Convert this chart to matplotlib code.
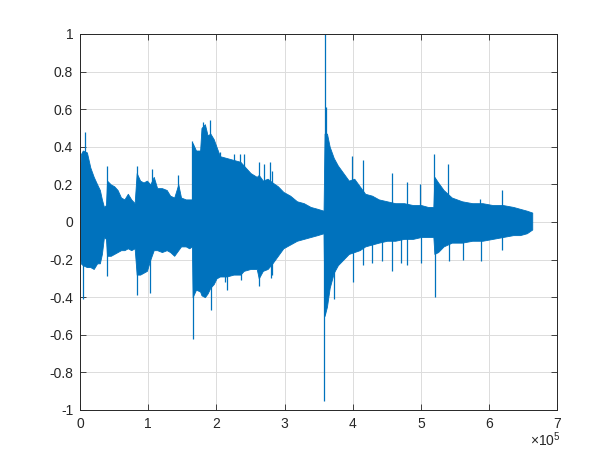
import numpy as np
import matplotlib.pyplot as plt
from matplotlib.ticker import FuncFormatter

plt.rcParams["font.family"] = ["Liberation Sans", "DejaVu Sans"]
plt.rcParams["mathtext.default"] = "regular"

# waveform envelope (sample index in thousands)
env_k = [0.5, 1, 4, 10, 15, 20, 25, 29, 32, 35, 38, 39.5, 45, 50, 55, 60, 65, 70, 75, 80,
         83, 88, 93, 98, 103, 108, 113, 120, 127, 132, 138, 144, 148, 155, 160, 164,
         165, 170, 176, 178, 183, 187, 191, 196, 200, 205, 215, 225, 235, 240, 250, 259,
         262, 268, 275, 282, 290, 298, 308, 318, 328, 338, 348, 357,
         358.5, 362, 366, 372, 378, 386, 394, 402, 410, 418, 428, 438, 450, 462, 475, 488,
         500, 510, 518, 519.5, 525, 533, 545, 560, 575, 590, 605, 620, 635, 645, 655, 663]
env_hi = [0.30, 0.36, 0.38, 0.37, 0.29, 0.24, 0.20, 0.17, 0.12, 0.08, 0.09, 0.22, 0.20, 0.19,
          0.17, 0.13, 0.12, 0.15, 0.12, 0.10,
          0.26, 0.22, 0.21, 0.22, 0.20, 0.24, 0.18, 0.18, 0.17, 0.14, 0.13, 0.20, 0.13, 0.12,
          0.12, 0.12,
          0.42, 0.38, 0.38, 0.50, 0.52, 0.46, 0.47, 0.44, 0.40, 0.35, 0.34, 0.33, 0.32, 0.30,
          0.26, 0.24,
          0.25, 0.22, 0.23, 0.21, 0.19, 0.16, 0.14, 0.11, 0.10, 0.08, 0.07, 0.06,
          0.47, 0.47, 0.40, 0.34, 0.30, 0.26, 0.22, 0.23, 0.19, 0.15, 0.14, 0.12, 0.11, 0.10,
          0.10, 0.09,
          0.09, 0.08, 0.08, 0.24, 0.21, 0.17, 0.13, 0.11, 0.10, 0.10, 0.09, 0.09, 0.08, 0.07,
          0.06, 0.05]
env_lo = [-0.20, -0.22, -0.23, -0.24, -0.24, -0.25, -0.22, -0.22, -0.17, -0.08, -0.09, -0.18,
          -0.18, -0.17, -0.16, -0.15, -0.15, -0.14, -0.15, -0.14,
          -0.28, -0.28, -0.27, -0.26, -0.20, -0.15, -0.15, -0.16, -0.15, -0.16, -0.18, -0.15,
          -0.13, -0.13, -0.14, -0.13,
          -0.40, -0.36, -0.37, -0.39, -0.40, -0.38, -0.35, -0.33, -0.30, -0.29, -0.29, -0.28,
          -0.28, -0.26, -0.25, -0.25,
          -0.30, -0.26, -0.25, -0.22, -0.18, -0.14, -0.12, -0.10, -0.09, -0.08, -0.07, -0.06,
          -0.50, -0.45, -0.35, -0.27, -0.23, -0.20, -0.17, -0.16, -0.15, -0.13, -0.12, -0.11,
          -0.10, -0.10, -0.09, -0.09,
          -0.08, -0.08, -0.08, -0.17, -0.16, -0.13, -0.11, -0.11, -0.10, -0.10, -0.09, -0.08,
          -0.07, -0.07, -0.06, -0.04]

# isolated peaks (sample index in thousands, amplitude)
peak_k = [7, 39, 83, 105, 144, 164, 180, 191, 205, 225, 235, 240, 262, 269, 279, 282,
          358.6, 360, 399, 415, 457, 479, 499, 519.5, 540, 587, 618,
          4, 39.5, 83.5, 102, 165, 191.5, 212, 215, 235.5, 262.5, 279.5, 281, 358.3, 373,
          399.5, 415.5, 428, 442, 457.5, 470, 479.5, 499.5, 520, 540.5, 562, 587.5, 618.5]
peak_v = [0.48, 0.30, 0.30, 0.28, 0.25, 0.43, 0.53, 0.54, 0.37, 0.36, 0.36, 0.36, 0.32,
          0.31, 0.32, 0.27, 1.0, 0.61, 0.35, 0.33, 0.26, 0.21, 0.20, 0.36, 0.31, 0.12, 0.17,
          -0.41, -0.29, -0.39, -0.38, -0.62, -0.47, -0.32, -0.36, -0.31, -0.34, -0.30, -0.28,
          -0.95, -0.41, -0.32, -0.23, -0.22, -0.21, -0.26, -0.22, -0.23, -0.22, -0.40, -0.21,
          -0.20, -0.21, -0.15]

blue = "#0072BD"

fig = plt.figure(figsize=(6.16, 4.62), dpi=100)
ax = fig.add_axes([0.13, 0.1126, 0.775, 0.8139])

x = np.array(env_k) * 1000
ax.fill_between(x, env_lo, env_hi, color=blue, linewidth=0.6, edgecolor=blue)
ax.vlines(np.array(peak_k) * 1000, 0, peak_v, color=blue, linewidth=0.9)

ax.set_xlim(0, 7e5)
ax.set_ylim(-1, 1)
ax.set_xticks(np.arange(0, 8) * 1e5)
ax.set_xticklabels([str(i) for i in range(8)])
ax.set_yticks(np.round(np.arange(-1, 1.01, 0.2), 1))
ax.yaxis.set_major_formatter(FuncFormatter(lambda v, p: "%g" % v if abs(v) > 1e-9 else "0"))

ax.grid(True, color="#dcdcdc", linewidth=0.7)
ax.set_axisbelow(True)
ax.tick_params(direction="in", top=True, right=True, length=4, width=0.6,
               labelsize=10, colors="#262626", pad=5)
for s in ax.spines.values():
    s.set_color("#262626")
    s.set_linewidth(0.7)

fig.text(0.885, 0.035, r"$\times10^5$", fontsize=10, color="#262626", ha="center")

fig.savefig("out.png", dpi=100)
